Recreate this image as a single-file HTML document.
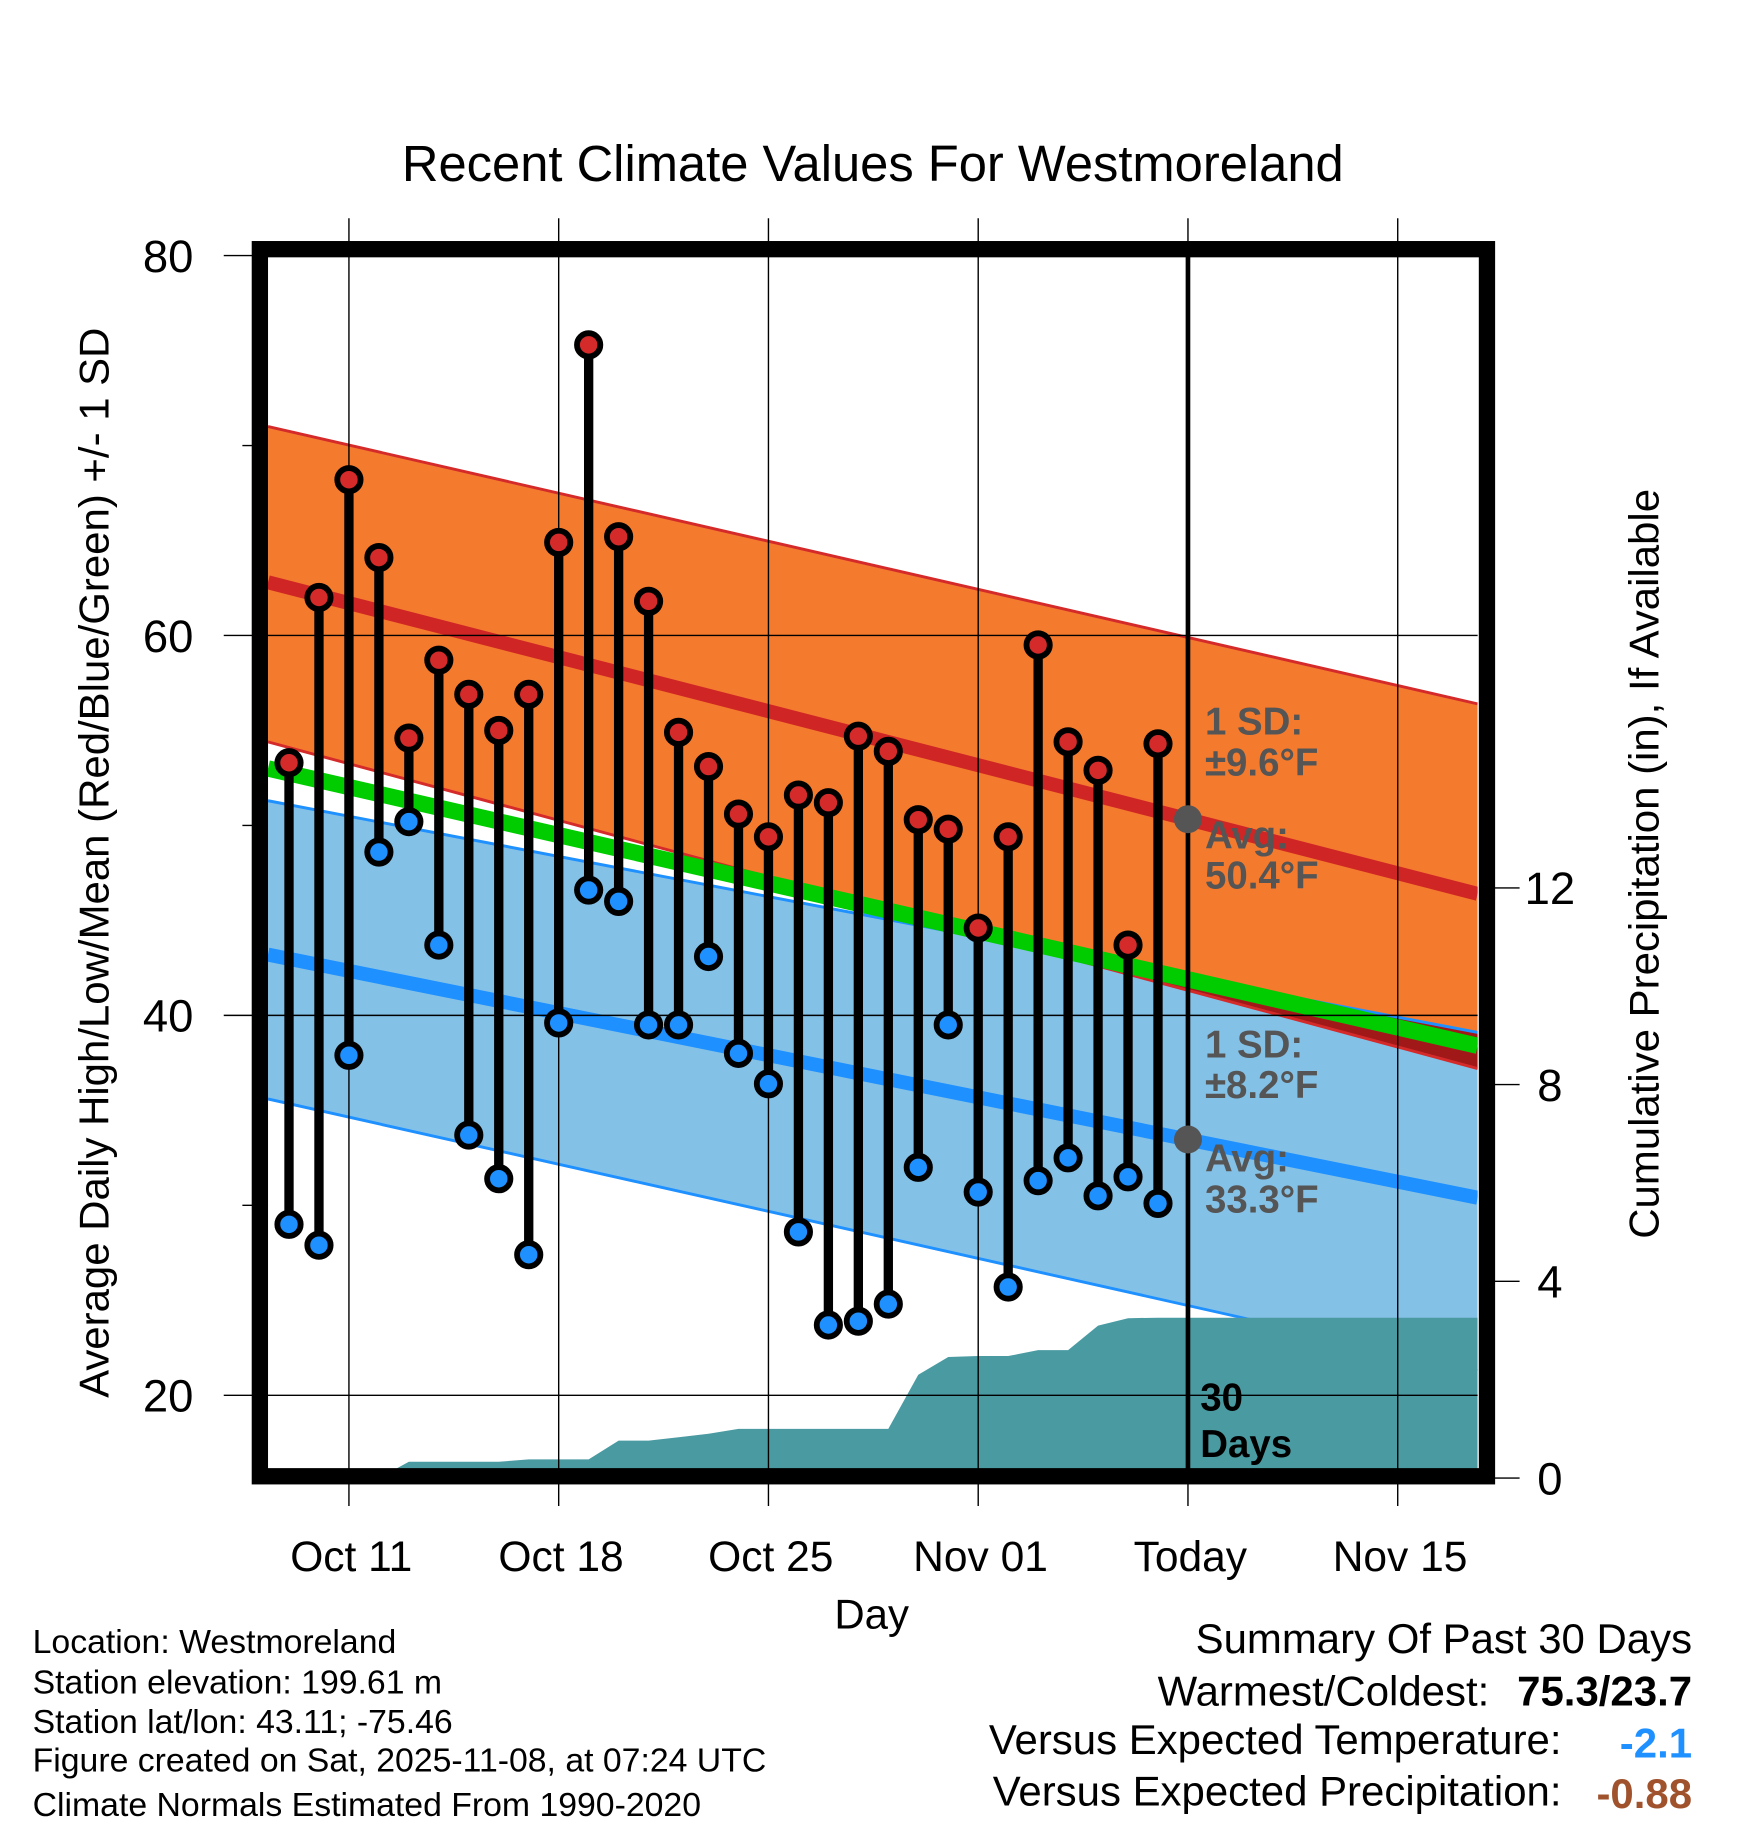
<!DOCTYPE html>
<html><head><meta charset="utf-8"><style>
html,body{margin:0;padding:0;background:#fff;}
svg{display:block;font-family:"Liberation Sans",Arial,sans-serif;}
</style></head><body>
<svg id="chart" width="1748" height="1828" viewBox="0 0 1500 1568" xmlns="http://www.w3.org/2000/svg">
</svg>
<script>
// ---- data ----
const dayLabels = ["Oct 11","Oct 18","Oct 25","Nov 01","Today","Nov 15"];
const dayTickOffsets = [2,9,16,23,30,37]; // days after Oct 9
const highs = [53.3,62.0,68.2,64.1,54.6,58.7,56.9,55.0,56.9,64.9,75.3,65.2,61.8,54.9,53.1,50.6,49.4,51.6,51.2,54.7,53.9,50.3,49.8,44.6,49.4,59.5,54.4,52.9,43.7,54.3];
const lows = [29.0,27.9,37.9,48.6,50.2,43.7,33.7,31.4,27.4,39.6,46.6,46.0,39.5,39.5,43.1,38.0,36.4,28.6,23.7,23.9,24.8,32.0,39.5,30.7,25.7,31.3,32.5,30.5,31.5,30.1];
const precip = [0,0,0,0,0.33,0.33,0.33,0.33,0.38,0.38,0.38,0.76,0.76,0.83,0.9,1.0,1.0,1.0,1.0,1.0,1.0,2.1,2.46,2.48,2.48,2.6,2.6,3.1,3.25,3.26];
const normHighStartEnd = [62.8,46.4];
const highUpperStartEnd = [71.0,56.4];
const highLowerStartEnd = [54.4,37.2];
const normLowStartEnd = [43.2,30.4];
const lowUpperStartEnd = [51.3,39.1];
const lowLowerStartEnd = [35.6,21.3];
const yTicks = [20,40,60,80];
const yMinor = [30,50,70];
const pTicks = [0,4,8,12];

const NS="http://www.w3.org/2000/svg";
const svg=document.getElementById('chart');
const L=230,R=1268,T=220,B=1260;
const x=d=>248+d*25.714;
const dL=(L-248)/25.714, dR=(R-248)/25.714;
const y=v=>219+(80-v)*16.3;
const yp=p=>1268-p*42.2;
function el(tag,attrs,parent){const e=document.createElementNS(NS,tag);for(const k in attrs)e.setAttribute(k,attrs[k]);(parent||svg).appendChild(e);return e;}
function txt(s,attrs){const e=el('text',attrs);e.textContent=s;return e;}
const lin=(se,d)=>se[0]+(se[1]-se[0])*(d-dL)/(dR-dL);

const defs=el('defs',{});const cp=el('clipPath',{id:'pc'},defs);el('rect',{x:L,y:T,width:R-L,height:B-T},cp);
const g=el('g',{'clip-path':'url(#pc)'});

const hu=highUpperStartEnd, hl=highLowerStartEnd, lu=lowUpperStartEnd, ll=lowLowerStartEnd;
let band=el('polygon',{points:`${L},${y(hu[0])} ${R},${y(hu[1])} ${R},${y(hl[1])} ${L},${y(hl[0])}`,fill:'#f47a2e'},g);

band=el('polygon',{points:`${L},${y(lu[0])} ${R},${y(lu[1])} ${R},${y(ll[1])} ${L},${y(ll[0])}`,fill:'#84c1e7'},g);

// overlap
const a1=(hl[1]-hl[0])/(dR-dL), a2=(lu[1]-lu[0])/(dR-dL);
const dx=dL+(lu[0]-hl[0])/(a1-a2);
if(dx<dR&&dx>dL){el('polygon',{points:`${x(dx)},${y(lin(hl,dx))} ${R},${y(lu[1])} ${R},${y(hl[1])}`,fill:'#a01818'},g);}
[[hu,'#d42a2a'],[hl,'#d42a2a'],[lu,'#1e90ff'],[ll,'#1e90ff']].forEach(a=>{el('line',{x1:L,y1:y(a[0][0]),x2:R,y2:y(a[0][1]),stroke:a[1],'stroke-width':2.5},g);});
const hs=normHighStartEnd, ls=normLowStartEnd;
let ln=el('line',{x1:L,y1:y(hs[0]),x2:R,y2:y(hs[1]),stroke:'#d02525','stroke-width':12},g);

ln=el('line',{x1:L,y1:y(ls[0]),x2:R,y2:y(ls[1]),stroke:'#1e90ff','stroke-width':12},g);

ln=el('line',{x1:L,y1:y((hs[0]+ls[0])/2),x2:R,y2:y((hs[1]+ls[1])/2),stroke:'#00cc00','stroke-width':14},g);


let pts=`${L},${B+5} ${L},${yp(precip[0])} `;
precip.forEach((p,i)=>{pts+=`${x(i)},${yp(p)} `;});
pts+=`${R},${yp(precip[precip.length-1])} ${R},${B+5}`;
const pa=el('polygon',{points:pts,fill:'#4a9aa2'},g);


yTicks.forEach(v=>{const yy=y(v);
 if(v<80)el('line',{x1:192,y1:yy,x2:R,y2:yy,stroke:'#000','stroke-width':1.2});
 else el('line',{x1:192,y1:yy,x2:L,y2:yy,stroke:'#000','stroke-width':1.2});
 const t=txt(String(v),{x:166,y:yy+14,'text-anchor':'end','font-size':39});
 });
yMinor.forEach(v=>el('line',{x1:208,y1:y(v),x2:L,y2:y(v),stroke:'#000','stroke-width':1.2}));
dayTickOffsets.forEach((d,i)=>{const xx=x(d);
 el('line',{x1:xx,y1:187,x2:xx,y2:1292,stroke:'#000','stroke-width':1.2});
 const t=txt(dayLabels[i],{x:xx+2,y:1348,'text-anchor':'middle','font-size':36.5});
 });
pTicks.forEach(p=>{const yy=yp(p);
 el('line',{x1:1280,y1:yy,x2:1304,y2:yy,stroke:'#000','stroke-width':1.2});
 const t=txt(String(p),{x:1330,y:yy+14,'text-anchor':'middle','font-size':39});
 });

el('line',{x1:x(30),y1:T,x2:x(30),y2:B,stroke:'#000','stroke-width':4});

highs.forEach((h,i)=>{const s=el('line',{x1:x(i),y1:y(h),x2:x(i),y2:y(lows[i]),stroke:'#000','stroke-width':8});
 });
highs.forEach((h,i)=>{const c=el('circle',{cx:x(i),cy:y(h),r:10,fill:'#d42a2a',stroke:'#000','stroke-width':5});
 
 const c2=el('circle',{cx:x(i),cy:y(lows[i]),r:10,fill:'#1e90ff',stroke:'#000','stroke-width':5});
 });

el('circle',{cx:x(30),cy:y(lin(hs,30)),r:12,fill:'#555'});
el('circle',{cx:x(30),cy:y(lin(ls,30)),r:12,fill:'#555'});

const fr=el('rect',{x:223,y:213.5,width:1053,height:1053,fill:'none',stroke:'#000','stroke-width':14});


function t2(s,x0,y0,size,extra){const a=Object.assign({x:x0,y:y0,'font-size':size},extra||{});return txt(s,a);}
const gb={'font-weight':'bold',fill:'#555'};
[['1 SD:',630],['±9.6°F',665],['Avg:',728],['50.4°F',762],['1 SD:',907],['±8.2°F',942],['Avg:',1005],['33.3°F',1040]].forEach(a=>{const t=t2(a[0],1034,a[1],33,gb);});
t2('30',1030,1210,33,{'font-weight':'bold'});
t2('Days',1030,1250,33,{'font-weight':'bold'});

let t=t2('Recent Climate Values For Westmoreland',749,155,43.5,{'text-anchor':'middle'});
t=t2('Average Daily High/Low/Mean (Red/Blue/Green) +/- 1 SD',0,0,36,{'text-anchor':'middle',transform:'translate(93,740) rotate(-90)'});
t=t2('Cumulative Precipitation (in), If Available',0,0,36,{'text-anchor':'middle',transform:'translate(1423,741) rotate(-90)'});
t=t2('Day',748,1397,36,{'text-anchor':'middle'});
[['Location: Westmoreland',1418],['Station elevation: 199.61 m',1453],['Station lat/lon: 43.11; -75.46',1487],['Figure created on Sat, 2025-11-08, at 07:24 UTC',1520],['Climate Normals Estimated From 1990-2020',1558]].forEach(a=>{const e=t2(a[0],28,a[1],29);});
t2('Summary Of Past 30 Days',1452,1418,36,{'text-anchor':'end'});
t2('Warmest/Coldest:',1278,1463,36,{'text-anchor':'end'});
t2('75.3/23.7',1452,1463,36,{'text-anchor':'end','font-weight':'bold'});
t2('Versus Expected Temperature:',1340,1505,36,{'text-anchor':'end'});
t2('-2.1',1452,1508,36,{'text-anchor':'end','font-weight':'bold',fill:'#1e90ff'});
t2('Versus Expected Precipitation:',1340,1549,36,{'text-anchor':'end'});
t2('-0.88',1452,1551,36,{'text-anchor':'end','font-weight':'bold',fill:'#a0522d'});
</script>
</body></html>
